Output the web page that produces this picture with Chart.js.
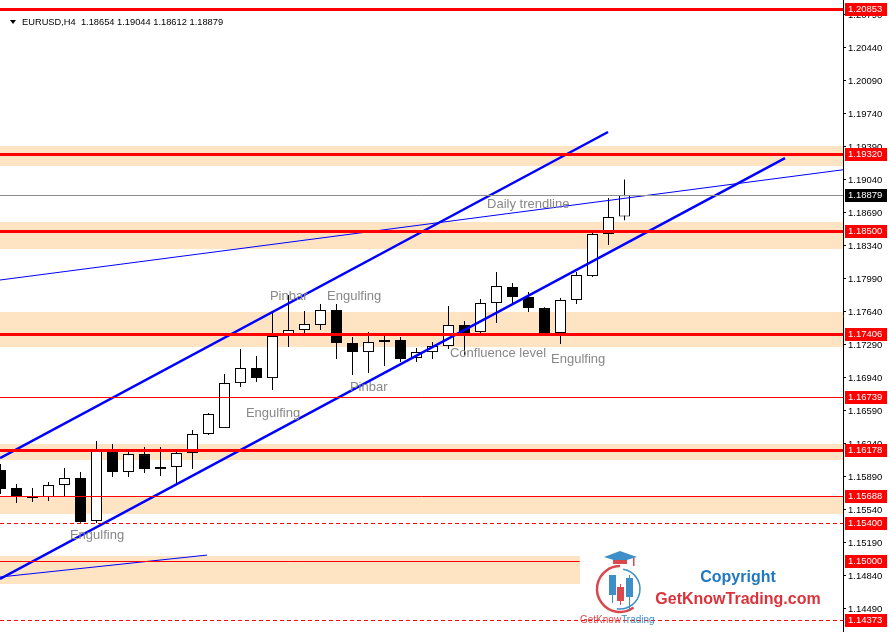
<!DOCTYPE html>
<html>
<head>
<meta charset="utf-8">
<title>EURUSD H4</title>
<script src="https://cdn.jsdelivr.net/npm/chart.js@4.4.1/dist/chart.umd.min.js"></script>
<style>
  html, body { margin: 0; padding: 0; background: #fff; }
  #wrap { position: relative; width: 888px; height: 632px; }
</style>
</head>
<body>
<div id="wrap"><canvas id="myChart"></canvas></div>
<script>
// EURUSD H4 candles, oldest first
const opens = [1.15964, 1.15773, 1.15667, 1.15677, 1.15805, 1.15879, 1.15423, 1.16165, 1.15943, 1.16133,
  1.15974, 1.15996, 1.16144, 1.16346, 1.16409, 1.16886, 1.17046, 1.16939, 1.17385, 1.17449,
  1.17502, 1.17661, 1.17311, 1.17215, 1.17343, 1.17343, 1.17152, 1.17215, 1.17279, 1.17502,
  1.17427, 1.17735, 1.17905, 1.17799, 1.17682, 1.17417, 1.17767, 1.18021, 1.18467, 1.18654];
const highs = [1.16027, 1.15815, 1.15773, 1.15836, 1.15985, 1.15943, 1.16271, 1.16239, 1.16155, 1.16208,
  1.16208, 1.16176, 1.16388, 1.16568, 1.16982, 1.17247, 1.17173, 1.17639, 1.1782, 1.1765,
  1.17724, 1.17724, 1.17374, 1.17427, 1.17396, 1.17374, 1.17258, 1.17321, 1.17703, 1.17544,
  1.17777, 1.18064, 1.17947, 1.17852, 1.17689, 1.17788, 1.18064, 1.18477, 1.18849, 1.19044];
const lows = [1.15709, 1.15614, 1.15624, 1.15635, 1.15688, 1.15405, 1.15402, 1.15889, 1.15889, 1.15932,
  1.159, 1.15805, 1.15974, 1.16335, 1.16409, 1.16844, 1.16897, 1.16812, 1.17268, 1.17417,
  1.17449, 1.17141, 1.16971, 1.16993, 1.17067, 1.17109, 1.17109, 1.17141, 1.17247, 1.17183,
  1.17417, 1.17523, 1.17735, 1.17639, 1.17417, 1.173, 1.17724, 1.18011, 1.1835, 1.18612];
const closes = [1.15762, 1.15688, 1.15677, 1.15805, 1.15879, 1.15412, 1.16176, 1.15943, 1.16133, 1.15974,
  1.15996, 1.16144, 1.16346, 1.16558, 1.16886, 1.17046, 1.16939, 1.17385, 1.17449, 1.17512,
  1.17661, 1.17311, 1.17215, 1.17321, 1.17321, 1.17141, 1.17215, 1.17279, 1.17502, 1.17406,
  1.17735, 1.17915, 1.17799, 1.17682, 1.17417, 1.17767, 1.18032, 1.18467, 1.18647, 1.18879];

const tickValues = [1.2079, 1.2044, 1.2009, 1.1974, 1.1939, 1.1904, 1.1869, 1.1834, 1.1799, 1.1764,
  1.1729, 1.1694, 1.1659, 1.1624, 1.1589, 1.1554, 1.1519, 1.1484, 1.1449];

// horizontal levels
const thickLevels = [1.20853, 1.1932, 1.185, 1.17406, 1.16178];
const thinLevels = [1.16739, 1.15688];
const dashedLevels = [1.154, 1.14373];
const lastPrice = closes[closes.length - 1];

// supply / demand zones (price bands)
const zones = [[1.194, 1.19188], [1.18594, 1.18308], [1.17639, 1.17268], [1.16239, 1.1607], [1.15688, 1.15497]];
// rectangle that only covers the older bars
const boxBars = [-0.03, 36.2];
const boxPrices = [1.15052, 1.14755];
const boxLevel = 1.15;

// trendlines: [bar, price] end points
const upperChannel = [[-0.03, 1.16091], [37.97, 1.19549]];
const lowerChannel = [[-0.03, 1.14808], [49.03, 1.19273]];
const dailyTrend = [[-0.03, 1.17979], [53, 1.19156]];
const smallTrend = [[-0.03, 1.14829], [12.91, 1.15062]];

// text objects anchored at [bar, price]
const notes = ["Pinbar", "Engulfing", "Engulfing", "Pinbar", "Confluence level", "Engulfing", "Daily trendline", "Engulfing"];
const noteBars = [16.84, 20.41, 15.34, 21.84, 28.09, 34.41, 30.41, 4.34];
const notePrices = [1.17767, 1.17767, 1.16526, 1.16802, 1.17162, 1.17099, 1.18743, 1.15232];

const red = "#ff0000";
const zoneColor = "#ffe4c4";
const blue = "#0000ff";
const axisFont = "9.5px 'Liberation Sans', Arial, sans-serif";

function trend(points, width) {
  return {
    type: "line",
    data: points.map(p => ({ x: p[0], y: p[1] })),
    borderColor: blue,
    borderWidth: width,
    pointRadius: 0,
    tension: 0,
    clip: 0,
    order: 0,
  };
}

function hline(ctx, a, py, width, color, dash, x0, x1) {
  ctx.save();
  ctx.strokeStyle = color;
  ctx.lineWidth = width;
  ctx.setLineDash(dash || []);
  const yy = width % 2 ? Math.round(py) + 0.5 : Math.round(py);
  ctx.beginPath();
  ctx.moveTo(x0 === undefined ? a.left : x0, yy);
  ctx.lineTo(x1 === undefined ? a.right : x1, yy);
  ctx.stroke();
  ctx.restore();
}

function priceBox(ctx, a, py, value, bg) {
  ctx.fillStyle = bg;
  ctx.fillRect(a.right + 2, Math.round(py) - 6, 42, 13);
  ctx.fillStyle = "#fff";
  ctx.font = axisFont;
  ctx.textAlign = "left";
  ctx.textBaseline = "middle";
  ctx.fillText(value.toFixed(5), a.right + 5, Math.round(py) + 0.5);
}

function drawLogo(ctx, a) {
  const cx = a.right - 223, cy = a.bottom - 43;
  ctx.save();
  // ring
  ctx.lineWidth = 2.5;
  ctx.strokeStyle = "#d9484c";
  ctx.beginPath(); ctx.arc(cx, cy, 23, Math.PI * 0.3, Math.PI * 1.5); ctx.stroke();
  ctx.lineWidth = 1.5;
  ctx.strokeStyle = "#3e8fc7";
  ctx.beginPath(); ctx.arc(cx, cy, 20, -Math.PI * 0.45, Math.PI * 0.55); ctx.stroke();
  // cap
  ctx.fillStyle = "#3e8fc7";
  ctx.beginPath();
  ctx.moveTo(cx - 16, cy - 32); ctx.lineTo(cx, cy - 38); ctx.lineTo(cx + 17, cy - 32); ctx.lineTo(cx, cy - 27);
  ctx.closePath(); ctx.fill();
  ctx.fillStyle = "#d9484c";
  ctx.fillRect(cx - 7, cy - 29, 14, 4);
  ctx.fillRect(cx + 13, cy - 31, 1.5, 8);
  // candles
  const bars = [[-11, -14, 20, -9, 14, "#3e8fc7"], [-3, -2, 14, -5, 16, "#d9484c"], [6, -11, 19, -14, 22, "#3e8fc7"]];
  bars.forEach(b => {
    ctx.fillStyle = b[5];
    ctx.fillRect(cx + b[0] + 3, cy + b[3], 1, b[4] - b[3]);
    ctx.fillRect(cx + b[0], cy + b[1], 7, b[2]);
  });
  // texts
  ctx.textBaseline = "alphabetic";
  ctx.font = "10px 'Liberation Sans', Arial, sans-serif";
  ctx.textAlign = "left";
  ctx.fillStyle = "#d9484c";
  ctx.fillText("GetKnow", cx - 40, a.bottom - 9);
  const w = ctx.measureText("GetKnow").width;
  ctx.fillStyle = "#3e8fc7";
  ctx.fillText("Trading", cx - 40 + w, a.bottom - 9);

  ctx.textAlign = "center";
  ctx.font = "bold 16px 'Liberation Sans', Arial, sans-serif";
  ctx.fillStyle = "#1f78c1";
  ctx.fillText("Copyright", a.right - 105, a.bottom - 50);
  ctx.fillStyle = "#dc323a";
  ctx.fillText("GetKnowTrading.com", a.right - 105, a.bottom - 28);
  ctx.restore();
}

const overlay = {
  id: "overlay",
  beforeDatasetsDraw(chart) {
    const { ctx, chartArea: a, scales: { x, y } } = chart;
    ctx.save();
    ctx.beginPath(); ctx.rect(a.left, a.top, a.width, a.height); ctx.clip();
    ctx.fillStyle = zoneColor;
    zones.forEach(z => {
      const t = Math.round(y.getPixelForValue(z[0]));
      const b = Math.round(y.getPixelForValue(z[1]));
      ctx.fillRect(a.left, t, a.width, b - t);
    });
    const l = Math.round(x.getPixelForValue(boxBars[0]));
    const r = Math.round(x.getPixelForValue(boxBars[1]));
    const t = Math.round(y.getPixelForValue(boxPrices[0]));
    const b = Math.round(y.getPixelForValue(boxPrices[1]));
    ctx.fillRect(l, t, r - l, b - t);
    ctx.restore();
  },
  afterDatasetsDraw(chart) {
    const { ctx, chartArea: a, scales: { x, y } } = chart;
    ctx.save();
    ctx.beginPath(); ctx.rect(a.left, a.top, a.width, a.height); ctx.clip();
    hline(ctx, a, y.getPixelForValue(lastPrice), 1, "#8c8c8c");
    thinLevels.forEach(v => hline(ctx, a, y.getPixelForValue(v), 1, red));
    dashedLevels.forEach(v => hline(ctx, a, y.getPixelForValue(v), 1, red, [4, 3]));
    hline(ctx, a, y.getPixelForValue(boxLevel), 1, red, null,
      x.getPixelForValue(boxBars[0]), x.getPixelForValue(boxBars[1]));
    thickLevels.forEach(v => hline(ctx, a, y.getPixelForValue(v), 3, red));

    ctx.fillStyle = "#888";
    ctx.font = "13px 'Liberation Sans', Arial, sans-serif";
    ctx.textAlign = "left";
    ctx.textBaseline = "alphabetic";
    notes.forEach((n, i) => {
      ctx.fillText(n, x.getPixelForValue(noteBars[i]), y.getPixelForValue(notePrices[i]));
    });
    ctx.restore();
  },
  afterDraw(chart) {
    const { ctx, chartArea: a, scales: { y } } = chart;
    ctx.save();
    thickLevels.concat(thinLevels, dashedLevels, [boxLevel]).forEach(v => {
      priceBox(ctx, a, y.getPixelForValue(v), v, red);
    });
    priceBox(ctx, a, y.getPixelForValue(lastPrice), lastPrice, "#000");

    // header
    const n = closes.length - 1;
    ctx.fillStyle = "#000";
    ctx.beginPath();
    ctx.moveTo(a.left + 10, a.top + 20); ctx.lineTo(a.left + 16, a.top + 20); ctx.lineTo(a.left + 13, a.top + 24);
    ctx.closePath(); ctx.fill();
    ctx.font = "9.3px 'Liberation Sans', Arial, sans-serif";
    ctx.textAlign = "left";
    ctx.textBaseline = "middle";
    ctx.fillText("EURUSD,H4  " + [opens[n], highs[n], lows[n], closes[n]].map(v => v.toFixed(5)).join(" "),
      a.left + 22, a.top + 22.5);

    drawLogo(ctx, a);
    ctx.restore();
  },
};

const bodies = {
  label: "body",
  data: opens.map((o, i) => ({ x: i, y: [o, closes[i]] })),
  backgroundColor: opens.map((o, i) => (closes[i] >= o ? "#ffffff" : "#000000")),
  borderColor: "#000",
  borderWidth: 1,
  borderSkipped: false,
  barThickness: 11,
  inflateAmount: 0,
  grouped: false,
  order: 1,
};

const wicks = {
  label: "wick",
  data: lows.map((l, i) => ({ x: i, y: [l, highs[i]] })),
  backgroundColor: "#000",
  borderWidth: 0,
  barThickness: 1,
  inflateAmount: 0,
  grouped: false,
  order: 2,
};

const config = {
  type: "bar",
  data: {
    datasets: [
      bodies,
      wicks,
      trend(upperChannel, 2.5),
      trend(lowerChannel, 2.5),
      trend(dailyTrend, 1),
      trend(smallTrend, 1),
    ],
  },
  options: {
    responsive: true,
    maintainAspectRatio: false,
    animation: false,
    events: [],
    layout: { padding: 0 },
    plugins: { legend: { display: false }, tooltip: { enabled: false } },
    scales: {
      x: {
        type: "linear",
        display: false,
        offset: false,
        min: -0.03125,
        max: -0.03125 + 843 / 16,
      },
      y: {
        type: "linear",
        position: "right",
        min: 1.14246,
        max: 1.20949,
        beginAtZero: false,
        afterBuildTicks: s => { s.ticks = tickValues.map(v => ({ value: v })); },
        afterFit: s => { s.width = 45; s.paddingTop = 0; s.paddingBottom = 0; },
        grid: { drawOnChartArea: false, drawTicks: true, tickLength: 3, color: "#000" },
        border: { display: true, color: "#000", width: 1 },
        ticks: {
          color: "#000",
          padding: 2,
          autoSkip: false,
          maxRotation: 0,
          font: { family: "'Liberation Sans', Arial, sans-serif", size: 9.5 },
          callback: v => Number(v).toFixed(5),
        },
      },
    },
  },
  plugins: [overlay],
};

const myChart = new Chart(document.getElementById("myChart"), config);
</script>
</body>
</html>
